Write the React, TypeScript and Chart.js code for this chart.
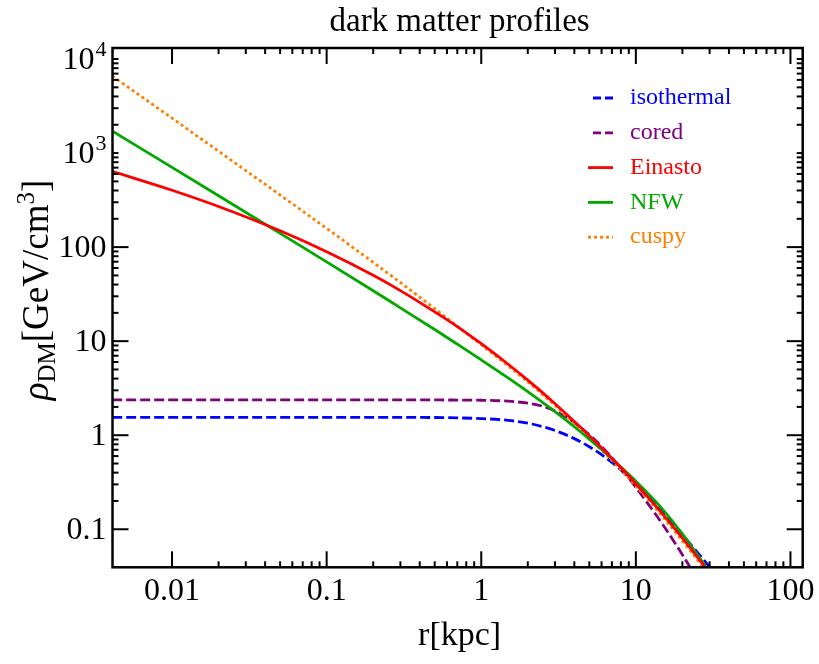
import React, { useEffect, useRef } from "react";
import { Chart, registerables } from "chart.js";

Chart.register(...registerables);

// ---------------- data ----------------
const radius = [0.0041, 0.01, 0.02, 0.05, 0.1, 0.2, 0.3, 0.5, 0.7, 1, 1.5, 2, 2.5, 3, 4, 5, 6, 7, 8, 10, 12, 15, 20, 25, 30, 35];

const isothermal = [1.55, 1.55, 1.55, 1.55, 1.55, 1.55, 1.549, 1.542, 1.528, 1.503, 1.439, 1.343, 1.23, 1.122, 0.92, 0.755, 0.621, 0.513, 0.427, 0.303, 0.224, 0.15, 0.0873, 0.0568, 0.0398, 0.0294];
const cored = [2.37, 2.37, 2.37, 2.37, 2.37, 2.37, 2.37, 2.37, 2.366, 2.355, 2.3, 2.19, 2.03, 1.81, 1.365, 1.01, 0.759, 0.575, 0.447, 0.279, 0.186, 0.111, 0.0537, 0.0292, 0.0176, 0.0114];
const einasto = [638, 402, 270, 149, 89.3, 50.2, 34.5, 20.5, 14.3, 9.4, 5.65, 3.85, 2.82, 2.16, 1.4, 0.989, 0.736, 0.569, 0.453, 0.305, 0.218, 0.143, 0.0804, 0.0506, 0.0343, 0.0244];
const nfw = [1718, 705, 352, 140, 69.7, 34.4, 22.6, 13.3, 9.29, 6.32, 4.04, 2.9, 2.22, 1.778, 1.23, 0.91, 0.705, 0.562, 0.459, 0.324, 0.239, 0.161, 0.0891, 0.0537, 0.0355, 0.0245];
const cuspy = [6607, 2350, 1047, 358, 158, 68.9, 42.0, 22.2, 14.4, 9.16, 5.43, 3.69, 2.7, 2.07, 1.34, 0.94, 0.698, 0.54, 0.429, 0.288, 0.206, 0.134, 0.0753, 0.0473, 0.032, 0.0228];

const seriesLabels = ["isothermal", "cored", "Einasto", "NFW", "cuspy"];
const seriesColors = ["#0000ff", "#800080", "#ff0000", "#00a800", "#ff8000"];

const xTickValues = [0.01, 0.1, 1, 10, 100];
const xTickLabels = ["0.01", "0.1", "1", "10", "100"];
const yTickValues = [0.1, 1, 10, 100, 1000, 10000];
const yTickLabels = ["0.1", "1", "10", "100", "10^3", "10^4"];

const chartTitle = "dark matter profiles";
const xTitle = "r[kpc]";
const yTitleSymbol = "ρ";
const yTitleSub = "DM";
const yTitleMain = "[GeV/cm";
const yTitleSup = "3";
const yTitleEnd = "]";

const X_MIN = 0.00412;
const X_MAX = 120;
const Y_MIN = 0.0394;
const Y_MAX = 13100;

const FONT = '"Liberation Serif", "Times New Roman", serif';

const dashStyles: number[][] = [[10, 4], [10, 4], [], [], [3, 3]];

const framePlugin = {
  id: "framePlugin",
  afterDraw(chart: any) {
    const ctx = chart.ctx as CanvasRenderingContext2D;
    const { left, right, top, bottom } = chart.chartArea;
    const xs = chart.scales.x;
    const ys = chart.scales.y;
    ctx.save();
    ctx.strokeStyle = "#000";
    ctx.fillStyle = "#000";

    const line = (x1: number, y1: number, x2: number, y2: number) => {
      ctx.beginPath();
      ctx.moveTo(x1, y1);
      ctx.lineTo(x2, y2);
      ctx.stroke();
    };

    // ticks
    ctx.lineWidth = 2;
    const MAJ = 16;
    const MIN = 6;
    for (let i = 0; i < xTickValues.length; i++) {
      const v = xTickValues[i];
      const px = xs.getPixelForValue(v);
      line(px, bottom, px, bottom - MAJ);
      line(px, top, px, top + MAJ);
      if (i < xTickValues.length - 1) {
        for (let k = 2; k <= 9; k++) {
          const mx = xs.getPixelForValue(v * k);
          line(mx, bottom, mx, bottom - MIN);
          line(mx, top, mx, top + MIN);
        }
      }
    }
    for (let i = 0; i < yTickValues.length; i++) {
      const v = yTickValues[i];
      const py = ys.getPixelForValue(v);
      const len = yTickLabels[i].includes("^") ? MIN : MAJ;
      line(left, py, left + len, py);
      line(right, py, right - len, py);
      if (i < yTickValues.length - 1) {
        for (let k = 2; k <= 9; k++) {
          const my = ys.getPixelForValue(v * k);
          line(left, my, left + MIN, my);
          line(right, my, right - MIN, my);
        }
      }
    }

    // frame
    ctx.lineWidth = 2.5;
    ctx.strokeRect(left, top, right - left, bottom - top);

    // x tick labels
    ctx.font = `32px ${FONT}`;
    ctx.textAlign = "center";
    ctx.textBaseline = "alphabetic";
    for (let i = 0; i < xTickValues.length; i++) {
      const px = xs.getPixelForValue(xTickValues[i]);
      ctx.fillText(xTickLabels[i], px, bottom + 33);
    }

    // y tick labels
    ctx.textBaseline = "middle";
    for (let i = 0; i < yTickValues.length; i++) {
      const py = ys.getPixelForValue(yTickValues[i]);
      const lab = yTickLabels[i];
      const xr = left - 6;
      ctx.textAlign = "right";
      if (lab.includes("^")) {
        const [base, exp] = lab.split("^");
        ctx.font = `22px ${FONT}`;
        const ew = ctx.measureText(exp).width;
        ctx.fillText(exp, xr, py - 9);
        ctx.font = `32px ${FONT}`;
        ctx.fillText(base, xr - ew - 1, py + 2);
      } else {
        ctx.font = `32px ${FONT}`;
        ctx.fillText(lab, xr, py + 1);
      }
    }

    // title
    const cx = (left + right) / 2;
    ctx.font = `33px ${FONT}`;
    ctx.textAlign = "center";
    ctx.textBaseline = "alphabetic";
    ctx.fillText(chartTitle, cx + 2, 31);

    // x axis title
    ctx.font = `34px ${FONT}`;
    ctx.fillText(xTitle, cx + 2, 645);

    // y axis title (rotated)
    ctx.save();
    ctx.translate(48, 290);
    ctx.rotate(-Math.PI / 2);
    const mainF = `37px ${FONT}`;
    const smallF = `25px ${FONT}`;
    const symF = `italic 37px ${FONT}`;
    ctx.textAlign = "left";
    ctx.textBaseline = "alphabetic";
    ctx.font = symF;
    const w1 = ctx.measureText(yTitleSymbol).width;
    ctx.font = smallF;
    const w2 = ctx.measureText(yTitleSub).width;
    ctx.font = mainF;
    const w3 = ctx.measureText(yTitleMain).width;
    ctx.font = smallF;
    const w4 = ctx.measureText(yTitleSup).width;
    ctx.font = mainF;
    const w5 = ctx.measureText(yTitleEnd).width;
    const total = w1 + w2 + w3 + w4 + w5;
    let x0 = -total / 2;
    ctx.font = symF;
    ctx.fillText(yTitleSymbol, x0, 0);
    x0 += w1;
    ctx.font = smallF;
    ctx.fillText(yTitleSub, x0, 7);
    x0 += w2;
    ctx.font = mainF;
    ctx.fillText(yTitleMain, x0, 0);
    x0 += w3;
    ctx.font = smallF;
    ctx.fillText(yTitleSup, x0, -14);
    x0 += w4;
    ctx.font = mainF;
    ctx.fillText(yTitleEnd, x0, 0);
    ctx.restore();

    // legend
    ctx.font = `24px ${FONT}`;
    ctx.textAlign = "left";
    ctx.textBaseline = "middle";
    for (let i = 0; i < seriesLabels.length; i++) {
      const y = 98 + 34.8 * i;
      ctx.strokeStyle = seriesColors[i];
      ctx.fillStyle = seriesColors[i];
      ctx.lineWidth = 2.8;
      const isDash = dashStyles[i].length === 2 && dashStyles[i][0] > 5;
      ctx.setLineDash(isDash ? [8, 4] : dashStyles[i]);
      line(isDash ? 593 : 588, y, 613, y);
      ctx.setLineDash([]);
      ctx.fillText(seriesLabels[i], 630, y);
    }
    ctx.restore();
  },
};

export default function App() {
  const ref = useRef<HTMLCanvasElement | null>(null);
  useEffect(() => {
    if (!ref.current) return;
    const all = [isothermal, cored, einasto, nfw, cuspy];
    const orders = [4, 3, 0, 1, 2];
    const datasets = all.map((vals, i) => ({
      label: seriesLabels[i],
      data: radius.map((r, j) => ({ x: r, y: vals[j] })),
      borderColor: seriesColors[i],
      backgroundColor: seriesColors[i],
      borderWidth: 2.8,
      borderDash: dashStyles[i],
      pointRadius: 0,
      fill: false,
      cubicInterpolationMode: "monotone" as const,
      order: orders[i],
    }));
    const chart = new Chart(ref.current, {
      type: "line",
      data: { datasets },
      options: {
        animation: false,
        responsive: false,
        maintainAspectRatio: false,
        layout: { padding: { left: 112.5, top: 48, right: 16.3, bottom: 96.7 } },
        plugins: { legend: { display: false }, tooltip: { enabled: false }, title: { display: false } },
        scales: {
          x: { type: "logarithmic", min: X_MIN, max: X_MAX, display: false },
          y: { type: "logarithmic", min: Y_MIN, max: Y_MAX, display: false },
        },
      },
      plugins: [framePlugin],
    });
    return () => chart.destroy();
  }, []);
  return (
    <div style={{ position: "fixed", left: 0, top: 0, width: 819, height: 664, background: "#fff" }}>
      <canvas ref={ref} width={819} height={664} style={{ width: 819, height: 664, display: "block" }} />
    </div>
  );
}
